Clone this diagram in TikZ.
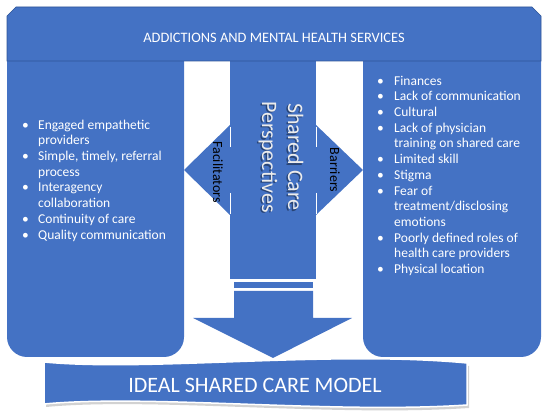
\documentclass[tikz,border=0pt]{standalone}
\usepackage{fontspec}
\setmainfont{Carlito}
\usepackage{tikz}
\usetikzlibrary{positioning, calc}
\definecolor{officeblue}{RGB}{68, 114, 196}
\definecolor{edgeblue}{RGB}{47, 85, 151}
\definecolor{captiongray}{RGB}{236, 236, 236}

\begin{document}
\begin{tikzpicture}[
    x=1pt, y=-1pt,
    column/.style={fill=officeblue},
    listtext/.style={anchor=north west, inner sep=0pt, text=white, font=\fontsize{13.5}{15.7}\selectfont},
    sidelabel/.style={rotate=-90, inner sep=0pt, font=\fontsize{14}{16}\selectfont},
    heading/.style={inner sep=0pt, text=white},
    vertical/.style={rotate=-90, align=center, inner sep=0pt, font=\fontsize{22}{26}\selectfont}
]
    \useasboundingbox (0,0) rectangle (550,419);

    \fill[column] (184,61) -- (7,61) -- (7,337) .. controls (7,348) and (16,357) .. (27,357) -- (164,357) .. controls (175,357) and (184,348) .. (184,337) -- cycle;
    \fill[column] (541,61) -- (363,61) -- (363,337) .. controls (363,348) and (372,357) .. (383,357) -- (521,357) .. controls (532,357) and (541,348) .. (541,337) -- cycle;
    \fill[column] (230,61) rectangle (316,279);
    \filldraw[fill=officeblue, draw=edgeblue, line width=0.6pt] (7,61) -- (7,16) -- (16,7) -- (532,7) -- (541,16) -- (541,61) -- cycle;
    \node[heading, font=\fontsize{14.4}{17}\selectfont] (services) at (274,38) {ADDICTIONS AND MENTAL HEALTH SERVICES};

    \fill[column] (230,125) -- (184,170) -- (230,215) -- cycle;
    \fill[column] (316,125) -- (363,170) -- (316,215) -- cycle;
    \draw[white, line width=0.8pt] (230,127) -- (230,147) (230,193) -- (230,214) (316,127) -- (316,147) (316,193) -- (316,214);

    \node[sidelabel] (facilitators) at (218,172) {Facilitators};
    \node[sidelabel] (barriers) at (335,170) {Barriers};
    \node[vertical, text=black, text opacity=0.4] at (279.5,158.5) {Shared Care\\Perspectives};
    \node[vertical, text=captiongray] (perspectives) at (281,157) {Shared Care\\Perspectives};

    \node[listtext] (faclist) at (22,118) {\begin{tabular}{@{}p{16pt}@{}l@{}}
        \textbullet & Engaged empathetic\\
                    & providers\\
        \textbullet & Simple, timely, referral\\
                    & process\\
        \textbullet & Interagency\\
                    & collaboration\\
        \textbullet & Continuity of care\\
        \textbullet & Quality communication
    \end{tabular}};
    \node[listtext] (barlist) at (377,74) {\begin{tabular}{@{}p{17pt}@{}l@{}}
        \textbullet & Finances\\
        \textbullet & Lack of communication\\
        \textbullet & Cultural\\
        \textbullet & Lack of physician\\
                    & training on shared care\\
        \textbullet & Limited skill\\
        \textbullet & Stigma\\
        \textbullet & Fear of\\
                    & treatment/disclosing\\
                    & emotions\\
        \textbullet & Poorly defined roles of\\
                    & health care providers\\
        \textbullet & Physical location
    \end{tabular}};

    \fill[column] (234,282) rectangle (313,288);
    \fill[column] (234,291) -- (313,291) -- (313,318) -- (352,318) -- (273,358) -- (193,318) -- (234,318) -- cycle;

    \fill[black!35, opacity=0.5, shift={(2,3)}] (44,362) .. controls (150,372) and (330,350) .. (467,363) -- (467,405) .. controls (330,414) and (150,394) .. (44,404) -- cycle;
    \filldraw[fill=officeblue, draw=white, line width=1.5pt] (44,362) .. controls (150,372) and (330,350) .. (467,363) -- (467,405) .. controls (330,414) and (150,394) .. (44,404) -- cycle;
    \node[heading, font=\fontsize{22}{26}\selectfont] (model) at (255,385) {IDEAL SHARED CARE MODEL};
\end{tikzpicture}
\end{document}
